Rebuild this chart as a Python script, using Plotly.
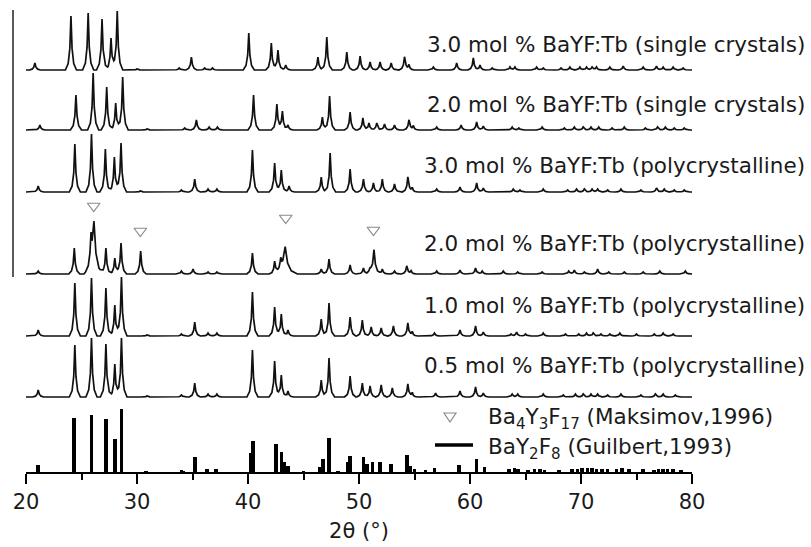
import plotly.graph_objects as go

# ---------------- data ----------------
labels = [
    "3.0 mol % BaYF:Tb (single crystals)",
    "2.0 mol % BaYF:Tb (single crystals)",
    "3.0 mol % BaYF:Tb (polycrystalline)",
    "2.0 mol % BaYF:Tb (polycrystalline)",
    "1.0 mol % BaYF:Tb (polycrystalline)",
    "0.5 mol % BaYF:Tb (polycrystalline)",
]

# (2theta, intensity a.u.[, relative width]) peak lists
p1_peaks = [(20.8, 7), (24.05, 54), (25.6, 57), (26.85, 51), (27.66, 32), (28.22, 59), (30.0, 1),
            (33.8, 2), (34.9, 13), (36.1, 2), (36.8, 2), (40.07, 37), (42.1, 27), (42.7, 20), (43.4, 5),
            (46.3, 13), (47.1, 33), (48.9, 18), (50.1, 14), (51.0, 8), (51.9, 8), (52.9, 7), (54.1, 13),
            (54.5, 5), (56.7, 3), (58.8, 7), (60.3, 12), (60.9, 5), (62.0, 2), (63.6, 3), (64.05, 3),
            (66.0, 3), (66.6, 2), (68.2, 2), (69.0, 3), (69.9, 3), (70.5, 3), (71.0, 3), (71.4, 3),
            (72.6, 3), (73.8, 4), (75.6, 3), (76.8, 4), (77.4, 3), (78.3, 3), (79.2, 2)]

p2_peaks = [(21.25, 5), (24.5, 35), (26.05, 57), (27.27, 43), (28.08, 27), (28.71, 53), (30.9, 1),
            (34.3, 2), (35.35, 10), (36.5, 3), (37.25, 3), (40.5, 35), (42.6, 26), (43.1, 19), (43.6, 5),
            (46.7, 13), (47.35, 34), (49.2, 18), (50.35, 12), (50.9, 7), (51.6, 7), (52.3, 6), (53.2, 5),
            (54.5, 10), (54.9, 4), (57.0, 3), (59.2, 5), (60.6, 8), (61.2, 4), (63.8, 3), (64.4, 2),
            (66.5, 3), (68.5, 2), (69.4, 3), (70.2, 3), (70.9, 3), (71.6, 3), (72.8, 2), (73.9, 3),
            (75.8, 2), (76.9, 3), (77.6, 3), (78.4, 2), (79.3, 2)]

p3_peaks = [(21.1, 6), (24.4, 48), (25.9, 58), (27.15, 43), (27.96, 35), (28.56, 49), (30.3, 1),
            (34.0, 2), (35.2, 13), (36.4, 3), (37.2, 3), (40.4, 42), (42.4, 29), (43.0, 22), (43.7, 6),
            (46.6, 15), (47.4, 39), (49.2, 23), (50.4, 13), (51.3, 9), (52.1, 13), (53.2, 8), (54.4, 15),
            (54.8, 4), (57.0, 3), (59.1, 5), (60.6, 9), (61.2, 4), (63.9, 3), (64.5, 2), (66.6, 3),
            (68.8, 2), (69.6, 3), (70.3, 3), (71.0, 3), (71.5, 3), (72.4, 2), (73.6, 3), (75.4, 2),
            (76.8, 4), (77.5, 3), (78.4, 2), (79.3, 2)]

p4_peaks = [(21.1, 3), (24.35, 26), (25.86, 26), (26.12, 50, 1.8), (27.2, 26), (28.0, 16), (28.56, 31),
            (30.33, 23), (34.0, 3), (35.05, 5), (36.4, 2), (37.2, 2), (40.4, 21), (42.4, 12), (42.95, 10),
            (43.35, 27, 2.2), (46.6, 5), (47.3, 15), (49.2, 9), (50.4, 6), (51.0, 4), (51.35, 24, 1.3),
            (52.1, 5), (53.2, 3), (54.3, 8), (54.7, 3), (57.0, 3), (59.1, 4), (60.5, 6), (61.1, 3),
            (63.0, 3), (64.3, 2), (66.5, 2), (68.9, 3), (69.4, 4), (70.3, 2), (71.5, 5), (72.5, 2),
            (73.9, 2), (75.6, 2), (77.1, 3), (79.4, 3)]

p5_peaks = [(21.1, 6), (24.4, 53), (25.9, 58), (27.2, 48), (28.0, 31), (28.6, 59), (30.9, 1),
            (34.0, 2), (35.2, 14), (36.4, 3), (37.2, 3), (40.4, 44), (42.4, 29), (43.0, 22), (43.6, 6),
            (46.6, 17), (47.3, 33), (49.2, 19), (50.3, 16), (51.1, 9), (52.0, 8), (53.1, 10), (54.4, 13),
            (54.8, 4), (56.8, 3), (59.1, 6), (60.5, 10), (61.2, 4), (63.7, 2), (64.2, 4), (65.0, 2),
            (66.6, 3), (68.6, 2), (69.8, 2), (70.5, 3), (71.1, 3), (71.8, 2), (72.6, 2), (73.5, 3),
            (75.0, 2), (76.6, 2), (77.4, 3), (78.3, 2)]

p6_peaks = [(21.1, 7), (24.4, 52), (25.9, 59), (27.2, 53), (28.0, 33), (28.6, 59), (30.9, 1),
            (34.0, 2), (35.2, 14), (36.4, 3), (37.2, 3), (40.4, 47), (42.4, 36), (43.0, 22), (43.6, 6),
            (46.6, 17), (47.3, 39), (49.2, 21), (50.3, 14), (51.0, 11), (52.0, 12), (53.0, 9), (54.4, 13),
            (54.8, 4), (56.9, 4), (59.1, 6), (60.5, 10), (61.2, 4), (63.8, 3), (64.3, 3), (66.6, 3),
            (68.4, 2), (69.5, 3), (70.2, 3), (70.9, 3), (71.5, 3), (72.4, 2), (73.6, 3), (75.4, 2),
            (76.7, 3), (77.4, 3), (78.5, 2)]

# BaY2F8 reference (Guilbert, 1993) stick pattern
ref_pos = [21.1, 24.3, 25.9, 27.2, 28.0, 28.6, 30.8, 34.0, 34.2, 35.2, 36.3, 37.1, 40.25, 40.45,
           42.5, 43.0, 43.25, 43.6, 45.0, 46.5, 46.75, 47.3, 48.1, 49.0, 49.2, 50.4, 50.7, 51.2,
           51.9, 52.9, 54.3, 54.6, 55.0, 56.0, 56.8, 59.0, 60.6, 61.3, 63.5, 64.0, 64.3, 65.2,
           65.8, 66.3, 66.7, 68.0, 69.2, 69.7, 70.1, 70.6, 71.0, 71.4, 71.9, 72.4, 73.2, 73.7,
           74.3, 75.6, 76.6, 77.0, 77.4, 77.8, 78.3, 79.0]
ref_int = [7, 54, 57, 53, 33, 63, 1, 2, 1, 15, 3, 3, 19, 31,
           28, 20, 10, 6, 1, 5, 13, 34, 1, 10, 16, 15, 8, 10,
           10, 8, 17, 6, 3, 2, 4, 7, 13, 5, 3, 4, 3, 2,
           3, 3, 2, 2, 3, 3, 4, 4, 4, 3, 3, 3, 3, 4,
           3, 3, 2, 3, 3, 3, 3, 2]

# Ba4Y3F17 (Maksimov, 1996) reflections marked on the 2.0 mol % polycrystalline pattern
ba4_pos = [26.1, 30.3, 43.4, 51.3]
ba4_mark = [68, 43, 56, 44]   # marker height above that pattern's baseline (a.u.)

# ---------------- layout / style ----------------
patterns = [p1_peaks, p2_peaks, p3_peaks, p4_peaks, p5_peaks, p6_peaks]
offsets = [402, 342, 280, 198, 136, 75]     # vertical stacking offsets (a.u.)
label_px = [45, 105, 166, 243, 305, 366]    # label centre rows (px)
FONT = "DejaVu Sans"
FS = 21.5
# drawn reflection shape: (distance from centre in deg, relative height)
SHAPE = [(0.0, 1.0), (0.1, 0.4), (0.25, 0.12), (0.5, 0.0)]

# plot area in pixels
L, R, T, B = 26, 692, 0, 472
FIG_W, FIG_H = 811, 547


def paper_x(px):
    return (px - L) / (R - L)


def paper_y(py):
    return (B - py) / (B - T)


def g(d):
    d = abs(d)
    for (d0, v0), (d1, v1) in zip(SHAPE[:-1], SHAPE[1:]):
        if d0 <= d <= d1:
            return v0 + (v1 - v0) * (d - d0) / (d1 - d0)
    return 0.0


def profile(peaks):
    norm = [(pk[0], pk[1], pk[2] if len(pk) > 2 else 1.0) for pk in peaks]
    xs = set([20.0, 80.0])
    for p, _, wf in norm:
        for s, _ in SHAPE:
            xs.add(round(p - s * wf, 4))
            xs.add(round(p + s * wf, 4))
    xs = sorted(x for x in xs if 20.0 <= x <= 80.0)
    ys = [sum(h * g((x - p) / wf) for p, h, wf in norm) for x in xs]
    return xs, ys


fig = go.Figure()

for peaks, off in zip(patterns, offsets):
    xs, ys = profile(peaks)
    fig.add_trace(go.Scatter(x=xs, y=[y + off for y in ys], mode="lines",
                             line=dict(color="#111111", width=1.7), showlegend=False,
                             hoverinfo="skip"))

fig.add_trace(go.Bar(x=ref_pos, y=ref_int, width=0.32, marker=dict(color="#000000", line=dict(width=0)),
                     showlegend=False, hoverinfo="skip"))

fig.add_trace(go.Scatter(x=ba4_pos, y=[m + offsets[3] for m in ba4_mark], mode="markers",
                         marker=dict(symbol="triangle-down-open", size=11, color="#8a8a8a",
                                     line=dict(width=1.2, color="#8a8a8a")),
                         showlegend=False, hoverinfo="skip"))

annotations = []
for text, py in zip(labels, label_px):
    annotations.append(dict(text=text, x=paper_x(807), y=paper_y(py), xref="paper", yref="paper",
                            xanchor="right", yanchor="middle", showarrow=False,
                            font=dict(family=FONT, size=FS, color="#1a1a1a")))

annotations.append(dict(text="Ba<sub>4</sub>Y<sub>3</sub>F<sub>17</sub> (Maksimov,1996)",
                        x=paper_x(486), y=paper_y(418), xref="paper", yref="paper",
                        xanchor="left", yanchor="middle", showarrow=False,
                        font=dict(family=FONT, size=FS, color="#1a1a1a")))
annotations.append(dict(text="BaY<sub>2</sub>F<sub>8</sub> (Guilbert,1993)",
                        x=paper_x(486), y=paper_y(448), xref="paper", yref="paper",
                        xanchor="left", yanchor="middle", showarrow=False,
                        font=dict(family=FONT, size=FS, color="#1a1a1a")))

# legend symbols
tri = "M {x0},{y0} L {x1},{y0} L {xm},{y2} Z".format(
    x0=paper_x(444), x1=paper_x(456), xm=paper_x(450), y0=paper_y(413), y2=paper_y(422))
shapes = [
    dict(type="path", path=tri, xref="paper", yref="paper", line=dict(color="#8a8a8a", width=1.2)),
    dict(type="line", x0=paper_x(435), x1=paper_x(473), y0=paper_y(445), y1=paper_y(445),
         xref="paper", yref="paper", line=dict(color="#000000", width=3.5)),
    dict(type="line", x0=paper_x(13), x1=paper_x(13), y0=paper_y(277), y1=paper_y(10),
         xref="paper", yref="paper", line=dict(color="#222222", width=1.5)),
]

fig.update_layout(
    width=FIG_W, height=FIG_H,
    margin=dict(l=L, r=FIG_W - R, t=T, b=FIG_H - B, pad=0),
    paper_bgcolor="white", plot_bgcolor="white",
    showlegend=False, bargap=0,
    annotations=annotations, shapes=shapes,
    font=dict(family=FONT, size=FS, color="#1a1a1a"),
    xaxis=dict(range=[20, 80], dtick=10, tick0=20, showgrid=False, zeroline=False,
               showline=True, linecolor="#000000", linewidth=1.5,
               ticks="outside", ticklen=10, tickwidth=1.5, tickcolor="#000000",
               minor=dict(dtick=5, tick0=20, ticks="outside", ticklen=6, tickwidth=1.5,
                          tickcolor="#000000", showgrid=False),
               tickfont=dict(family=FONT, size=21, color="#1a1a1a"),
               title=dict(text="2θ (°)", font=dict(family=FONT, size=21, color="#1a1a1a"),
                          standoff=10)),
    yaxis=dict(range=[0, B - T], visible=False, showgrid=False, zeroline=False),
)

fig.write_html("out.html")
